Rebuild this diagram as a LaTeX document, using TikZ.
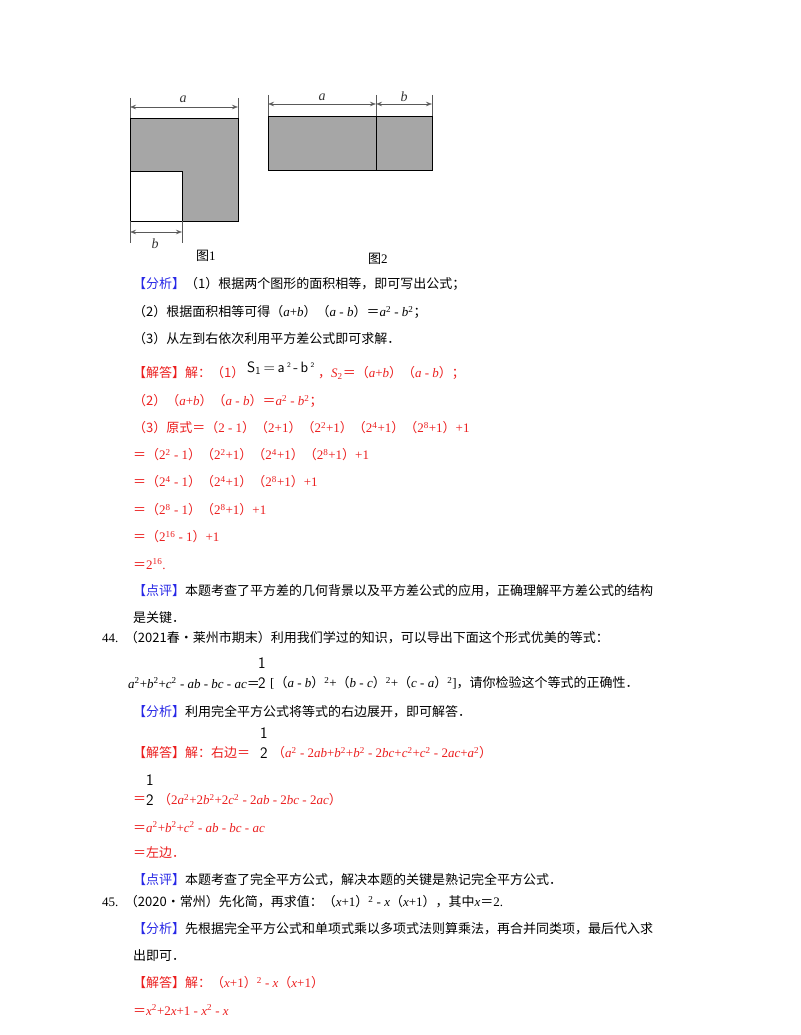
\documentclass[tikz,border=0pt]{standalone}
\usepackage{fontspec}
\setmainfont{Liberation Serif}
\newfontfamily\cjk{Noto Sans CJK SC}
\newcommand{\zh}[1]{{\cjk #1}}
\usetikzlibrary{arrows.meta}
\definecolor{rd}{RGB}{235,30,30}
\definecolor{bl}{RGB}{40,40,230}
\definecolor{gr}{RGB}{166,166,166}
\begin{document}
\begin{tikzpicture}[x=1pt,y=-1pt,
 t/.style={anchor=west,inner sep=0pt,font=\fontsize{13}{15}\selectfont},
 r/.style={t,text=rd},
 dim/.style={{Stealth[length=6pt,open]}-{Stealth[length=6pt,open]},gray!70!black,line width=0.7pt},
 ext/.style={gray!70!black,line width=0.7pt},
 fr/.style={inner sep=0pt,align=center,font=\sffamily\fontsize{16}{20}\selectfont},
 lab/.style={inner sep=0pt,font=\itshape\fontsize{14}{14}\selectfont,text=black!80}]
\useasboundingbox (0,0) rectangle (800,1035);
% figure 1
\fill[gr,draw=black,line width=0.8pt] (130,118) rectangle (238,221);
\fill[white,draw=black,line width=0.8pt] (130,171) rectangle (182,221);
\draw[ext] (130,98)--(130,118) (238,98)--(238,118);
\draw[dim] (130,107)--(238,107);
\node[lab] (la) at (183,99) {a};
\draw[ext] (130,221)--(130,243) (182,221)--(182,243);
\draw[dim] (130,232)--(182,232);
\node[lab] (lb) at (155,244) {b};
\node[t] (f1) at (196,256) {\zh{图}1};
% figure 2
\fill[gr,draw=black,line width=0.8pt] (268,116) rectangle (376,170);
\fill[gr,draw=black,line width=0.8pt] (376,116) rectangle (432,170);
\draw[ext] (268,95)--(268,116) (376,95)--(376,116) (432,95)--(432,116);
\draw[dim] (268,104)--(376,104);
\draw[dim] (376,104)--(432,104);
\node[lab] (la2) at (322,97) {a};
\node[lab] (lb2) at (404,97) {b};
\node[t] (f2) at (368,259) {\zh{图}2};
% text
\node[t] (l1) at (133,284) {\textcolor{bl}{\zh{【分析】}}\zh{（1）根据两个图形的面积相等，即可写出公式；}};
\node[t] (l2) at (133,312) {\zh{（2）根据面积相等可得（}\textit{a}+\textit{b}\zh{）（}\textit{a} - \textit{b}\zh{）＝}\textit{a}\textsuperscript{2} - \textit{b}\textsuperscript{2}\zh{；}};
\node[t] (l3) at (133,339) {\zh{（3）从左到右依次利用平方差公式即可求解．}};
\node[r] (s1) at (133,373) {\zh{【解答】解：（1）}};
\node[t,font=\sffamily\fontsize{15}{15}\selectfont] (s1b) at (247,368) {S\textsubscript{1}\,=\,a\,\raisebox{5pt}{\scriptsize 2}\,-\,b\,\raisebox{5pt}{\scriptsize 2}};
\node[r] (s1c) at (318,373) {\zh{，}\textit{S}\textsubscript{2}\zh{＝（}\textit{a}+\textit{b}\zh{）（}\textit{a} - \textit{b}\zh{）；}};
\node[r] (s2) at (133,401) {\zh{（2）（}\textit{a}+\textit{b}\zh{）（}\textit{a} - \textit{b}\zh{）＝}\textit{a}\textsuperscript{2} - \textit{b}\textsuperscript{2}\zh{；}};
\node[r] (s3) at (133,428) {\zh{（3）原式＝（}2 - 1\zh{）（}2+1\zh{）（}2\textsuperscript{2}+1\zh{）（}2\textsuperscript{4}+1\zh{）（}2\textsuperscript{8}+1\zh{）}+1};
\node[r] (s4) at (133,455) {\zh{＝（}2\textsuperscript{2} - 1\zh{）（}2\textsuperscript{2}+1\zh{）（}2\textsuperscript{4}+1\zh{）（}2\textsuperscript{8}+1\zh{）}+1};
\node[r] (s5) at (133,482) {\zh{＝（}2\textsuperscript{4} - 1\zh{）（}2\textsuperscript{4}+1\zh{）（}2\textsuperscript{8}+1\zh{）}+1};
\node[r] (s6) at (133,510) {\zh{＝（}2\textsuperscript{8} - 1\zh{）（}2\textsuperscript{8}+1\zh{）}+1};
\node[r] (s7) at (133,537) {\zh{＝（}2\textsuperscript{16} - 1\zh{）}+1};
\node[r] (s8) at (133,564) {\zh{＝}2\textsuperscript{16}.};
\node[t] (p1) at (133,591) {\textcolor{bl}{\zh{【点评】}}\zh{本题考查了平方差的几何背景以及平方差公式的应用，正确理解平方差公式的结构}};
\node[t] (p2) at (133,618) {\zh{是关键．}};
\node[t] (q44) at (102,638) {44.\ \ \zh{（2021春•莱州市期末）利用我们学过的知识，可以导出下面这个形式优美的等式：}};
\node[t] (q44b) at (128,683) {\textit{a}\textsuperscript{2}+\textit{b}\textsuperscript{2}+\textit{c}\textsuperscript{2} - \textit{ab} - \textit{bc} - \textit{ac}\zh{＝}};
\node[fr] (fr1) at (262,673) {1\\2};
\node[t] (q44c) at (270,683) {[\zh{（}\textit{a} - \textit{b}\zh{）}\textsuperscript{2}+\zh{（}\textit{b} - \textit{c}\zh{）}\textsuperscript{2}+\zh{（}\textit{c} - \textit{a}\zh{）}\textsuperscript{2}]\zh{，请你检验这个等式的正确性．}};
\node[t] (a44) at (133,712) {\textcolor{bl}{\zh{【分析】}}\zh{利用完全平方公式将等式的右边展开，即可解答．}};
\node[r] (b44) at (133,753) {\zh{【解答】解：右边＝}};
\node[fr] (fr2) at (264,743) {1\\2};
\node[r] (b44c) at (272,753) {\zh{（}\textit{a}\textsuperscript{2} - 2\textit{ab}+\textit{b}\textsuperscript{2}+\textit{b}\textsuperscript{2} - 2\textit{bc}+\textit{c}\textsuperscript{2}+\textit{c}\textsuperscript{2} - 2\textit{ac}+\textit{a}\textsuperscript{2}\zh{）}};
\node[fr] (fr3) at (150,790) {1\\2};
\node[r] (c44) at (133,800) {\zh{＝}};
\node[r] (c44b) at (158,800) {\zh{（}2\textit{a}\textsuperscript{2}+2\textit{b}\textsuperscript{2}+2\textit{c}\textsuperscript{2} - 2\textit{ab} - 2\textit{bc} - 2\textit{ac}\zh{）}};
\node[r] (d44) at (133,827) {\zh{＝}\textit{a}\textsuperscript{2}+\textit{b}\textsuperscript{2}+\textit{c}\textsuperscript{2} - \textit{ab} - \textit{bc} - \textit{ac}};
\node[r] (e44) at (133,853) {\zh{＝左边．}};
\node[t] (g44) at (133,880) {\textcolor{bl}{\zh{【点评】}}\zh{本题考查了完全平方公式，解决本题的关键是熟记完全平方公式．}};
\node[t] (q45) at (102,902) {45.\ \ \zh{（2020•常州）先化简，再求值：（}\textit{x}+1\zh{）}\textsuperscript{2} - \textit{x}\zh{（}\textit{x}+1\zh{），其中}\textit{x}\zh{＝}2.};
\node[t] (a45) at (133,929) {\textcolor{bl}{\zh{【分析】}}\zh{先根据完全平方公式和单项式乘以多项式法则算乘法，再合并同类项，最后代入求}};
\node[t] (a45b) at (133,956) {\zh{出即可．}};
\node[r] (b45) at (133,983) {\zh{【解答】解：（}\textit{x}+1\zh{）}\textsuperscript{2} - \textit{x}\zh{（}\textit{x}+1\zh{）}};
\node[r] (c45) at (133,1010) {\zh{＝}\textit{x}\textsuperscript{2}+2\textit{x}+1 - \textit{x}\textsuperscript{2} - \textit{x}};
\end{tikzpicture}
\end{document}
